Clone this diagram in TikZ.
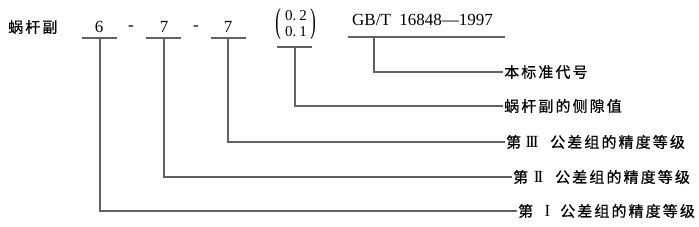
\documentclass[tikz,border=0pt]{standalone}
\usepackage{fontspec}
\usepackage{graphicx}
\setmainfont{Liberation Serif}
\newfontfamily\cjk{Noto Sans CJK SC}[LetterSpace=14,FakeBold=0.6]
\begin{document}
\begin{tikzpicture}[x=1pt,y=-1pt,
  line/.style={draw=black!62, line width=1.1pt},
  lbl/.style={anchor=west, inner sep=0pt, font=\fontsize{15}{17}\cjk},
  num/.style={inner sep=0pt, font=\fontsize{17}{20}\selectfont},
  small/.style={inner sep=0pt, font=\fontsize{15}{17}\selectfont},
  paren/.style={inner sep=0pt, font=\fontsize{15}{17}\selectfont},
  roman/.style={inner sep=0pt, font=\fontsize{17}{19}\selectfont}]
\useasboundingbox (0,0) rectangle (699,227);
% top row
\node[lbl] (wg) at (8,27) {蜗杆副};
\node[num] (d1) at (99,27) {6};
\node[num] (h1) at (131,28) {-};
\node[num] (d2) at (164,27) {7};
\node[num] (h2) at (196,28) {-};
\node[num] (d3) at (228,27) {7};
\node[small] (m1) at (296,15.5) {0.\kern3pt 2};
\node[small] (m2) at (296,32) {0.\kern3pt 1};
\node[paren] (pl) at (278,24) {\scalebox{1.1}[2.3]{(}};
\node[paren] (pr) at (313,24) {\scalebox{1.1}[2.3]{)}};
\node[num, anchor=west] (gb) at (352,20) {GB/T\ \ 16848—1997};
% underlines
\coordinate (u1a) at (82,38);  \coordinate (u1b) at (117,38);
\coordinate (u2a) at (146,38); \coordinate (u2b) at (181,38);
\coordinate (u3a) at (211,38); \coordinate (u3b) at (246,38);
\coordinate (u4a) at (277,47); \coordinate (u4b) at (312,47);
\coordinate (u5a) at (348,37); \coordinate (u5b) at (505,37);
\draw[line] (u1a) -- (u1b);
\draw[line] (u2a) -- (u2b);
\draw[line] (u3a) -- (u3b);
\draw[line] (u4a) -- (u4b);
\draw[line] (u5a) -- (u5b);
% stems
\coordinate (s1) at (100,38);
\coordinate (s2) at (164,38);
\coordinate (s3) at (228,38);
\coordinate (s4) at (295,47);
\coordinate (s5) at (374,37);
% label ends
\coordinate (e5) at (503,72);
\coordinate (e4) at (503,106);
\coordinate (e3) at (505,142);
\coordinate (e2) at (512,177);
\coordinate (e1) at (517,211);
\draw[line] (s5) |- (e5);
\draw[line] (s4) |- (e4);
\draw[line] (s3) |- (e3);
\draw[line] (s2) |- (e2);
\draw[line] (s1) |- (e1);
% labels
\node[lbl] (l5) at ([xshift=1pt]e5) {本标准代号};
\node[lbl] (l4) at ([xshift=1pt]e4) {蜗杆副的侧隙值};
\node[lbl] (l3a) at ([xshift=1pt]e3) {第};
\node[roman] (l3b) at (532,142) {I\kern-2pt I\kern-2pt I};
\node[lbl] (l3c) at (550,142) {公差组的精度等级};
\node[lbl] (l2a) at ([xshift=1pt]e2) {第};
\node[roman] (l2b) at (538.5,177) {I\kern-2pt I};
\node[lbl] (l2c) at (555,177) {公差组的精度等级};
\node[lbl] (l1a) at ([xshift=1pt]e1) {第};
\node[roman] (l1b) at (547.5,211) {I};
\node[lbl] (l1c) at (560,211) {公差组的精度等级};
\end{tikzpicture}
\end{document}
